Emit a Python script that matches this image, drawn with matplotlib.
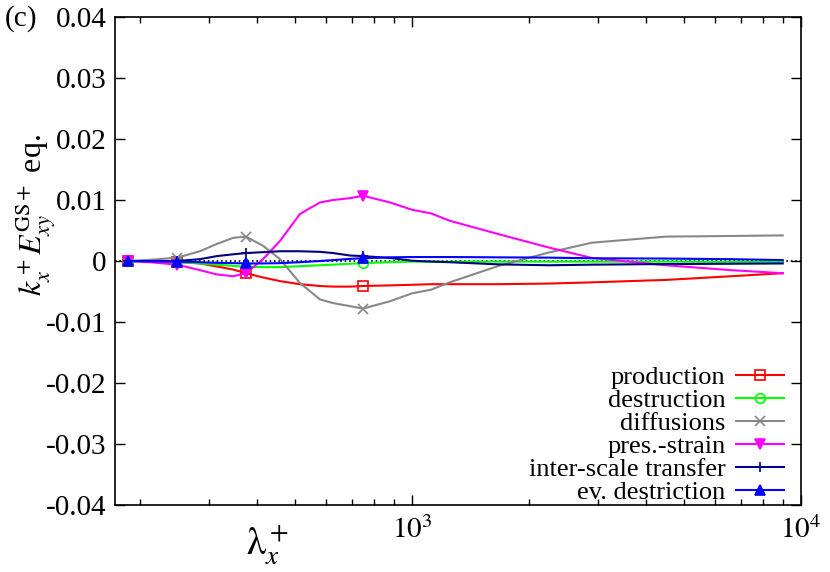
import numpy as np
import matplotlib
matplotlib.use('Agg')
import matplotlib.pyplot as plt
from matplotlib.ticker import LogLocator, NullFormatter, FixedLocator

plt.rcParams['font.family'] = ['Liberation Serif', 'DejaVu Serif']
plt.rcParams['mathtext.fontset'] = 'stix'

# lambda_x^+ grid
lam = [186, 212, 249, 285, 315, 347, 374, 414, 458, 515, 580, 627, 693, 748,
       878, 1000, 1120, 1250, 1670, 2250, 2900, 4500, 6600, 8976]

# values in units of 1e-3
production = [0, -0.05, -0.15, -0.4, -0.9, -1.4, -2.0, -2.7, -3.3, -3.8, -4.1, -4.2, -4.2, -4.1,
              -4.0, -3.9, -3.8, -3.8, -3.8, -3.7, -3.5, -3.1, -2.5, -2.0]
destruction = [0, -0.05, -0.15, -0.4, -0.6, -0.8, -0.95, -1.0, -1.0, -0.85, -0.7, -0.6, -0.45, -0.35,
               -0.2, -0.1, -0.1, -0.1, -0.1, -0.1, -0.1, -0.1, -0.15, -0.15]
diffusions = [0, 0.2, 0.55, 1.6, 2.8, 3.8, 4.0, 2.5, 0.3, -3.6, -6.3, -6.9, -7.4, -7.8,
              -6.6, -5.3, -4.7, -3.5, -0.8, 1.4, 3.0, 4.0, 4.1, 4.2]
pres_strain = [0, -0.2, -0.6, -1.5, -2.2, -2.5, -2.0, 0.3, 3.3, 7.7, 9.6, 10.0, 10.3, 10.7,
               9.6, 8.4, 7.8, 6.6, 4.4, 2.2, 0.5, -0.7, -1.5, -2.0]
inter_scale = [0, 0, 0, 0.3, 0.8, 1.1, 1.3, 1.45, 1.6, 1.6, 1.5, 1.3, 0.9, 0.8,
               0.5, 0.05, -0.1, -0.2, -0.55, -0.7, -0.6, -0.5, -0.45, -0.4]
ev_destr = [0, -0.05, -0.1, -0.2, -0.3, -0.35, -0.4, -0.4, -0.35, -0.2, 0.0, 0.15, 0.35, 0.45,
            0.6, 0.65, 0.65, 0.65, 0.6, 0.55, 0.45, 0.4, 0.3, 0.15]

marcas = [0, 2, 6, 13]

series = [
    ('production', production, '#ff0000', 's', 'none'),
    ('destruction', destruction, '#00ff00', 'o', 'none'),
    ('diffusions', diffusions, '#888888', 'x', None),
    ('pres.-strain', pres_strain, '#ff00ff', 'v', None),
    ('inter-scale transfer', inter_scale, '#000080', '+', None),
    ('ev. destriction', ev_destr, '#0000ff', '^', None),
]

fig = plt.figure(figsize=(8.3, 5.72), dpi=100)
ax = fig.add_axes([115/830, 1-505/572, (801-115)/830, (505-17)/572])

ax.axhline(0, color='black', linestyle=':', linewidth=1.2, zorder=1)

for nombre, vals, color, mk, mfc in series:
    kw = dict(color=color, linewidth=1.5, marker=mk, markevery=marcas,
              markersize=7, markeredgewidth=1.2, label=nombre)
    if mfc is not None:
        kw['markerfacecolor'] = mfc
    ax.plot(lam, np.array(vals) * 1e-3, **kw)

ax.set_xscale('log')
ax.set_xlim(172.4, 1e4)
ax.set_ylim(-0.04, 0.04)
ax.set_yticks(np.arange(-0.04, 0.0401, 0.01))
ax.set_yticklabels(['-0.04', '-0.03', '-0.02', '-0.01', '0', '0.01', '0.02', '0.03', '0.04'])
ax.xaxis.set_major_locator(FixedLocator([1e3, 1e4]))
ax.xaxis.set_minor_locator(LogLocator(base=10, subs=np.arange(2, 10)))
ax.xaxis.set_minor_formatter(NullFormatter())
ax.set_xticklabels([r'$10^3$', r'$10^4$'])

ax.tick_params(which='both', direction='in', top=True, right=True, labelsize=21, pad=6)
ax.tick_params(axis='x', pad=8)
ax.tick_params(which='major', length=7, width=1)
ax.tick_params(which='minor', length=4, width=1)
for s in ax.spines.values():
    s.set_linewidth(1.2)

ax.set_xlabel(r'$\mathrm{\lambda}_x^+$', fontsize=28, va='center')
ax.xaxis.set_label_coords((268-115)/686, (505-545)/488)
ax.set_ylabel(r'$k_x^+ E_{xy}^{\rm GS+}$ eq.', fontsize=23, va='center')
ax.yaxis.set_label_coords((36-115)/686, (505-215)/488)

fig.text(5/830, 1-19/572, '(c)', fontsize=21, va='center', ha='left')

leg = ax.legend(loc='lower right', markerfirst=False, frameon=False, fontsize=19,
                handlelength=1.8, handletextpad=0.4, labelspacing=-0.02,
                borderaxespad=0.0, bbox_to_anchor=(0.99, -0.02))

fig.savefig('out.png', dpi=100)
